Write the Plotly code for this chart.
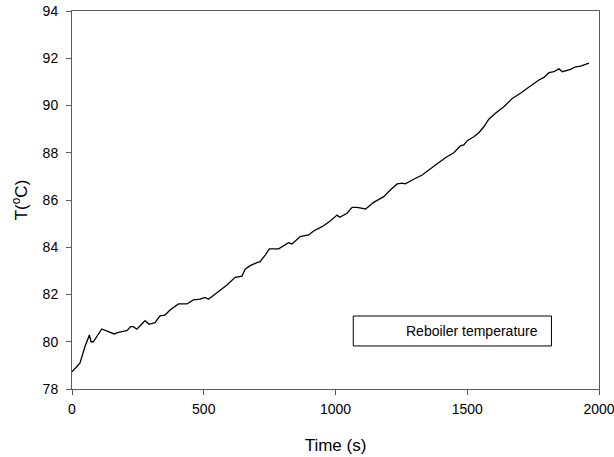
import plotly.graph_objects as go

time_s = [0, 30, 49, 66, 72, 81, 113, 132, 160, 176, 195, 208, 223, 233, 246, 277, 293, 315,
          334, 353, 372, 404, 436, 461, 486, 505, 518, 543, 569, 588, 619, 645, 657, 676, 702,
          714, 733, 749, 784, 822, 835, 866, 898, 917, 949, 980, 1006, 1016, 1044, 1063, 1082,
          1114, 1145, 1183, 1208, 1234, 1253, 1265, 1297, 1329, 1354, 1386, 1417, 1449, 1474,
          1487, 1500, 1525, 1544, 1563, 1582, 1607, 1639, 1671, 1683, 1702, 1728, 1753, 1772,
          1791, 1810, 1829, 1848, 1861, 1873, 1892, 1911, 1930, 1962]
temp_c = [78.73, 79.09, 79.79, 80.29, 80.00, 80.00, 80.54, 80.45, 80.33, 80.40, 80.45, 80.47,
          80.64, 80.64, 80.53, 80.89, 80.74, 80.81, 81.10, 81.13, 81.34, 81.60, 81.60, 81.77,
          81.80, 81.88, 81.80, 82.02, 82.23, 82.40, 82.73, 82.78, 83.07, 83.22, 83.35, 83.39,
          83.67, 83.93, 83.93, 84.19, 84.14, 84.45, 84.52, 84.69, 84.87, 85.11, 85.36, 85.27,
          85.44, 85.69, 85.69, 85.62, 85.90, 86.14, 86.42, 86.68, 86.71, 86.68, 86.88, 87.06,
          87.27, 87.52, 87.79, 88.00, 88.29, 88.33, 88.51, 88.68, 88.85, 89.10, 89.42, 89.67,
          89.95, 90.30, 90.40, 90.52, 90.73, 90.94, 91.08, 91.19, 91.39, 91.43, 91.55, 91.43,
          91.46, 91.53, 91.64, 91.67, 91.79]

x_ticks = [0, 500, 1000, 1500, 2000]
y_ticks = [78, 80, 82, 84, 86, 88, 90, 92, 94]
legend_label = "Reboiler temperature"

FONT = "Liberation Sans, Arial, sans-serif"
AXIS_COLOR = "#5a5a5a"

fig = go.Figure()
fig.add_trace(go.Scatter(x=time_s, y=temp_c, mode="lines",
                         line=dict(color="black", width=1.3),
                         name=legend_label, showlegend=False))

fig.update_layout(
    width=614, height=457,
    margin=dict(l=72, r=15, t=11, b=68),
    paper_bgcolor="white", plot_bgcolor="white",
    font=dict(family=FONT, size=14, color="black"),
    showlegend=False,
)
fig.update_xaxes(range=[0, 2000], tickvals=x_ticks, ticks="outside", ticklen=5,
                 tickcolor=AXIS_COLOR, showline=True, linecolor=AXIS_COLOR, linewidth=1,
                 mirror=True, showgrid=False, zeroline=False, automargin=False,
                 ticklabelstandoff=2, ticklabeloverflow="allow",
                 title=dict(text="Time (s)", font=dict(size=17), standoff=23),
                 tickfont=dict(size=14))
fig.update_yaxes(range=[78, 94], tickvals=y_ticks, ticks="outside", ticklen=5,
                 tickcolor=AXIS_COLOR, showline=True, linecolor=AXIS_COLOR, linewidth=1,
                 mirror=True, showgrid=False, zeroline=False, automargin=False,
                 ticklabelstandoff=5, ticklabeloverflow="allow",
                 title=dict(text="T(<sup>o</sup>C)", font=dict(size=17), standoff=10),
                 tickfont=dict(size=14))

# legend box (no line sample, as in the reference)
fig.add_shape(type="rect", xref="paper", yref="paper",
              x0=0.5337, x1=0.9098, y0=0.1138, y1=0.1931,
              line=dict(color="black", width=1), fillcolor="white", layer="above")
fig.add_annotation(xref="paper", yref="paper", x=0.8889, y=0.1534,
                   xanchor="right", yanchor="middle", showarrow=False,
                   text=legend_label, font=dict(size=14, color="black"))

fig.write_html("out.html")
